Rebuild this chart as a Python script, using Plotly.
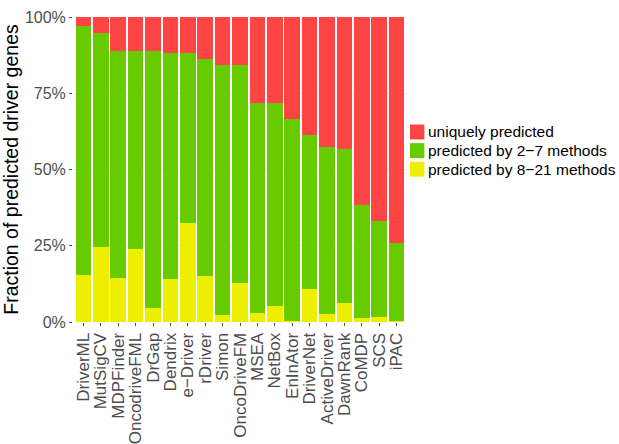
import plotly.graph_objects as go

# Driver-gene prediction tools, ordered by share of uniquely predicted genes
methods = ["DriverML", "MutSigCV", "MDPFinder", "OncodriveFML", "DrGap", "Dendrix",
           "e\u2212Driver", "rDriver", "Simon", "OncoDriveFM", "MSEA", "NetBox",
           "EnInAtor", "DriverNet", "ActiveDriver", "DawnRank", "CoMDP", "SCS", "iPAC"]

# Percent of each tool's predicted genes, by how many methods predicted them
pct_8_21 = [15.3, 24.5, 14.3, 23.8, 4.5, 14.0, 32.3, 15.0, 2.2, 12.7,
            3.1, 5.4, 0.4, 10.9, 2.5, 6.3, 1.2, 1.5, 0.3]
pct_2_7 = [81.9, 70.1, 74.6, 64.9, 84.2, 74.3, 55.8, 71.3, 82.2, 71.4,
           68.8, 66.5, 66.0, 50.5, 55.0, 50.3, 37.0, 31.5, 25.7]
pct_unique = [2.8, 5.4, 11.1, 11.3, 11.3, 11.7, 11.9, 13.7, 15.6, 15.9,
              28.1, 28.1, 33.6, 38.6, 42.5, 43.4, 61.8, 67.0, 74.0]

# stacking order bottom -> top
series = [
    ("predicted by 8\u221221 methods", pct_8_21, "#EEEE00"),
    ("predicted by 2\u22127 methods", pct_2_7, "#66CC00"),
    ("uniquely predicted", pct_unique, "#FF4444"),
]

fig = go.Figure()
for name, vals, color in series:
    fig.add_trace(go.Bar(
        x=methods, y=[v / 100 for v in vals], name=name,
        marker=dict(color=color, line=dict(width=0)),
        showlegend=False,
    ))

font = "Liberation Sans, Arial, sans-serif"

# compact ggplot-style legend keys to the right of the panel (top entry first)
key_w, key_h, step = 0.043, 0.049, 0.061
for i, (name, _, color) in enumerate(reversed(series)):
    yc = 0.623 - i * step
    fig.add_shape(type="rect", xref="paper", yref="paper",
                  x0=1.009, x1=1.009 + key_w, y0=yc - key_h / 2, y1=yc + key_h / 2,
                  fillcolor=color, line=dict(width=0))
    fig.add_annotation(xref="paper", yref="paper", x=1.058, y=yc,
                       xanchor="left", yanchor="middle", showarrow=False,
                       text=name, font=dict(size=15.5, color="black", family=font))

fig.update_layout(
    width=619, height=444,
    barmode="stack", bargap=0.11,
    plot_bgcolor="white", paper_bgcolor="white",
    margin=dict(l=73, r=212, t=17, b=122),
    font=dict(family=font, color="#4d4d4d"),
    showlegend=False,
    xaxis=dict(
        range=[-0.6, len(methods) - 0.4], automargin=False,
        tickmode="array", tickvals=methods, ticktext=methods,
        tickangle=-90, tickfont=dict(size=17, color="#4d4d4d"),
        ticks="outside", ticklen=3, tickcolor="#4d4d4d",
        showgrid=False, zeroline=False, showline=False,
    ),
    yaxis=dict(
        range=[0, 1], tickvals=[0, 0.25, 0.5, 0.75, 1], tickformat=".0%",
        automargin=False,
        tickfont=dict(size=16, color="#4d4d4d"),
        ticks="outside", ticklen=3, tickcolor="#4d4d4d",
        showgrid=True, gridcolor="#ebebeb", gridwidth=1,
        zeroline=False, showline=False,
        title=dict(text="Fraction of predicted driver genes",
                   font=dict(size=19.5, color="black", family=font), standoff=3),
    ),
)

fig.write_html("out.html")
